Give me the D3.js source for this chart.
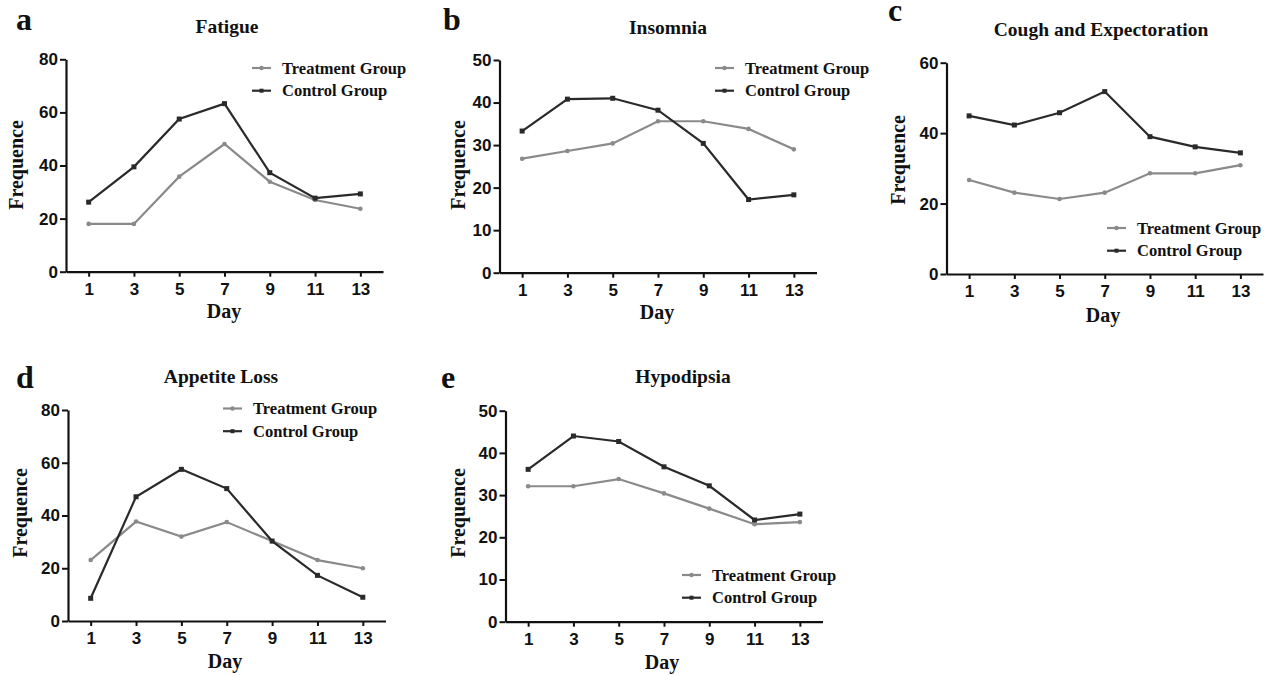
<!DOCTYPE html>
<html>
<head>
<meta charset="utf-8">
<script src="https://cdn.jsdelivr.net/npm/d3@7"></script>
<style>
  body { margin: 0; background: #fff; }
  .serif { font-family: "Liberation Serif", "Times New Roman", serif; font-weight: bold; fill: #111; }
  .tick text { font-family: "Liberation Sans", Arial, sans-serif; font-weight: bold; font-size: 17px; fill: #111; }
</style>
</head>
<body>
<svg id="fig" width="1266" height="675"></svg>
<script>
const days = [1, 3, 5, 7, 9, 11, 13];
const dayTicks = ["1", "3", "5", "7", "9", "11", "13"];

const fatigueTreatment = [18, 18, 35.8, 48.1, 33.9, 27, 23.7];
const fatigueControl = [26.2, 39.5, 57.5, 63.3, 37.3, 27.7, 29.3];

const insomniaTreatment = [26.8, 28.6, 30.4, 35.6, 35.6, 33.8, 29];
const insomniaControl = [33.3, 40.8, 41, 38.2, 30.4, 17.2, 18.3];

const coughTreatment = [26.7, 23.1, 21.3, 23.1, 28.6, 28.6, 30.9];
const coughControl = [44.9, 42.3, 45.8, 51.8, 39, 36.1, 34.4];

const appetiteTreatment = [23.1, 37.7, 32, 37.5, 30.3, 23.1, 20];
const appetiteControl = [8.6, 47.1, 57.5, 50.2, 30.3, 17.3, 9];

const hypodipsiaTreatment = [32.1, 32.1, 33.8, 30.4, 26.8, 23.1, 23.6];
const hypodipsiaControl = [36.1, 44, 42.7, 36.7, 32.2, 24.1, 25.5];

const seriesNames = ["Treatment Group", "Control Group"];
const treatColor = "#8a8a8a";
const ctrlColor = "#2a2a2a";

// layout per panel (pixel positions)
const panels = [
  { letter: "a", title: "Fatigue", treat: fatigueTreatment, ctrl: fatigueControl,
    yTicks: [0, 20, 40, 60, 80], xr: [66, 383], yr: [271.7, 59.3],
    letterPos: [16, 30], titlePos: [227, 33], yLab: [23, 165], xLab: [224, 318], legend: [252, 68] },
  { letter: "b", title: "Insomnia", treat: insomniaTreatment, ctrl: insomniaControl,
    yTicks: [0, 10, 20, 30, 40, 50], xr: [499.5, 816.5], yr: [272.7, 60],
    letterPos: [443, 30], titlePos: [668, 33.5], yLab: [465, 165], xLab: [657, 319], legend: [715, 68] },
  { letter: "c", title: "Cough and Expectoration", treat: coughTreatment, ctrl: coughControl,
    yTicks: [0, 20, 40, 60], xr: [946.5, 1263], yr: [274, 62.7],
    letterPos: [888, 21], titlePos: [1101, 36], yLab: [905, 160], xLab: [1103, 321.5], legend: [1107, 228] },
  { letter: "d", title: "Appetite Loss", treat: appetiteTreatment, ctrl: appetiteControl,
    yTicks: [0, 20, 40, 60, 80], xr: [68, 385.5], yr: [621, 410],
    letterPos: [16, 388], titlePos: [221, 383], yLab: [27, 513], xLab: [225, 668], legend: [223, 408.5] },
  { letter: "e", title: "Hypodipsia", treat: hypodipsiaTreatment, ctrl: hypodipsiaControl,
    yTicks: [0, 10, 20, 30, 40, 50], xr: [505.5, 822.5], yr: [621.7, 410.7],
    letterPos: [441, 388], titlePos: [683, 383], yLab: [465, 513], xLab: [662, 669], legend: [682, 575] }
];

const svg = d3.select("#fig");

panels.forEach((p) => {
  const g = svg.append("g");
  const x = d3.scaleLinear().domain([0, 14]).range(p.xr);
  const y = d3.scaleLinear().domain([0, d3.max(p.yTicks)]).range(p.yr);

  // axes
  const xAxis = g.append("g")
    .attr("transform", `translate(0,${p.yr[0]})`)
    .call(d3.axisBottom(x).tickValues(days).tickFormat((d, i) => dayTicks[i])
      .tickSize(5).tickSizeOuter(0).tickPadding(6));
  const yAxis = g.append("g")
    .attr("transform", `translate(${p.xr[0]},0)`)
    .call(d3.axisLeft(y).tickValues(p.yTicks).tickSize(6).tickSizeOuter(0).tickPadding(2));
  [xAxis, yAxis].forEach((a) => {
    a.select(".domain").attr("stroke", "#111").attr("stroke-width", 2.2);
    a.selectAll(".tick line").attr("stroke", "#111").attr("stroke-width", 2);
  });

  // lines
  const line = d3.line().x((d, i) => x(days[i])).y((d) => y(d));
  g.append("path").datum(p.treat)
    .attr("fill", "none").attr("stroke", treatColor).attr("stroke-width", 2.2)
    .attr("d", line);
  g.append("path").datum(p.ctrl)
    .attr("fill", "none").attr("stroke", ctrlColor).attr("stroke-width", 2.2)
    .attr("d", line);

  g.selectAll(".tm").data(p.treat).enter().append("circle")
    .attr("cx", (d, i) => x(days[i])).attr("cy", (d) => y(d))
    .attr("r", 2.3).attr("fill", treatColor);
  g.selectAll(".cm").data(p.ctrl).enter().append("rect")
    .attr("x", (d, i) => x(days[i]) - 2.5).attr("y", (d) => y(d) - 2.5)
    .attr("width", 5).attr("height", 5).attr("fill", ctrlColor);

  // texts
  g.append("text").attr("class", "serif")
    .attr("x", p.letterPos[0]).attr("y", p.letterPos[1])
    .style("font-size", "32px").text(p.letter);
  g.append("text").attr("class", "serif")
    .attr("x", p.titlePos[0]).attr("y", p.titlePos[1])
    .attr("text-anchor", "middle").style("font-size", "19.5px").text(p.title);
  g.append("text").attr("class", "serif")
    .attr("transform", `translate(${p.yLab[0]},${p.yLab[1]}) rotate(-90)`)
    .attr("text-anchor", "middle").style("font-size", "20px").text("Frequence");
  g.append("text").attr("class", "serif")
    .attr("x", p.xLab[0]).attr("y", p.xLab[1])
    .attr("text-anchor", "middle").style("font-size", "20px").text("Day");

  // legend
  const lg = g.append("g").attr("transform", `translate(${p.legend[0]},${p.legend[1]})`);
  [treatColor, ctrlColor].forEach((c, i) => {
    const row = lg.append("g").attr("transform", `translate(0,${i * 22.7})`);
    row.append("line").attr("x1", 0).attr("x2", 19).attr("y1", 0).attr("y2", 0)
      .attr("stroke", c).attr("stroke-width", 2.2);
    if (i === 0) row.append("circle").attr("cx", 9.5).attr("cy", 0).attr("r", 2.2).attr("fill", c);
    else row.append("rect").attr("x", 7.5).attr("y", -2).attr("width", 4).attr("height", 4).attr("fill", c);
    row.append("text").attr("class", "serif")
      .attr("x", 30).attr("y", 0).attr("dy", "0.35em")
      .style("font-size", "16.5px").text(seriesNames[i]);
  });
});
</script>
</body>
</html>
